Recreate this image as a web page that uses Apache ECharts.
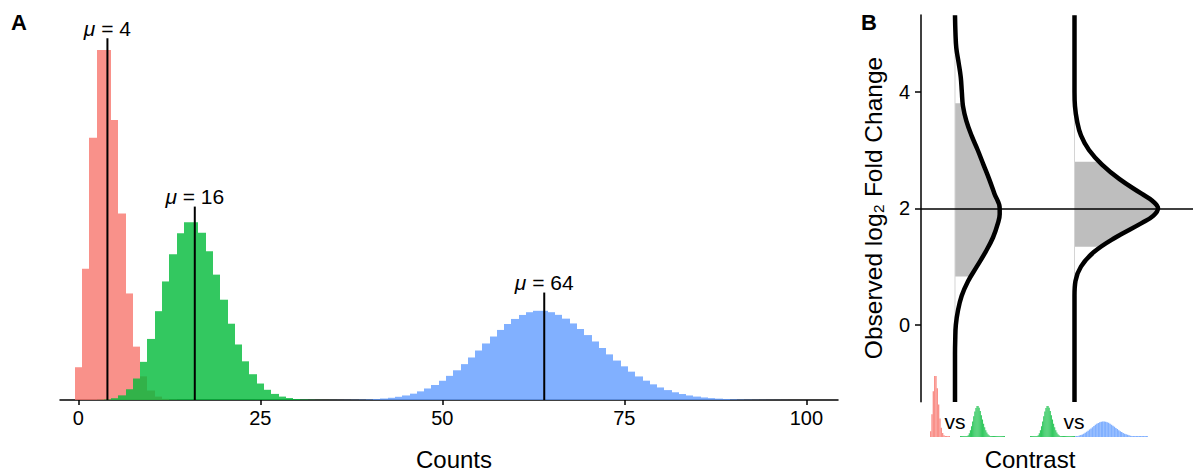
<!DOCTYPE html>
<html>
<head>
<meta charset="utf-8">
<script src="https://cdn.jsdelivr.net/npm/echarts@6/dist/echarts.min.js"></script>
<style>
html, body { margin: 0; padding: 0; background: #fff; }
#chart { width: 1193px; height: 473px; }
</style>
</head>
<body>
<div id="chart"></div>
<script>
// panel A: count histograms (density per count)
var redK = [0, 1, 2, 3, 4, 5, 6, 7, 8, 9, 10, 11, 12, 13, 14, 15];
var redP = [0.0183, 0.0733, 0.1465, 0.1954, 0.1954, 0.1563, 0.1042, 0.0595, 0.0298, 0.0132,
  0.0053, 0.0019, 0.00064, 0.0002, 0.00006, 0.00002];

var greenK = [0, 1, 2, 3, 4, 5, 6, 7, 8, 9, 10, 11, 12, 13, 14, 15, 16, 17, 18, 19, 20,
  21, 22, 23, 24, 25, 26, 27, 28, 29, 30, 31, 32, 33, 34, 35, 36, 37, 38, 39, 40];
var greenP = [0, 0, 0.00001, 0.00008, 0.0003, 0.001, 0.0026, 0.006, 0.012, 0.0213, 0.0341,
  0.0496, 0.0662, 0.0814, 0.0931, 0.0993, 0.0993, 0.0934, 0.0831, 0.07, 0.056,
  0.0426, 0.031, 0.0216, 0.0144, 0.0092, 0.0057, 0.0034, 0.0019, 0.0011, 0.00056,
  0.00029, 0.00015, 0.00007, 0.00003, 0.00002, 0.000007, 0.000003, 0.000001, 0, 0];

var blueK = [35, 36, 37, 38, 39, 40, 41, 42, 43, 44, 45, 46, 47, 48, 49, 50, 51, 52, 53, 54,
  55, 56, 57, 58, 59, 60, 61, 62, 63, 64, 65, 66, 67, 68, 69, 70, 71, 72, 73, 74,
  75, 76, 77, 78, 79, 80, 81, 82, 83, 84, 85, 86, 87, 88, 89, 90, 91, 92, 93, 94,
  95, 96, 97, 98];
var blueP = [0.000026, 0.000045, 0.000079, 0.00013, 0.00022, 0.00035, 0.00054, 0.00083,
  0.00123, 0.00179, 0.00254, 0.00354, 0.00482, 0.00643, 0.00839, 0.01074, 0.01348,
  0.01659, 0.02003, 0.02374, 0.02763, 0.03157, 0.03545, 0.03912, 0.04244, 0.04526,
  0.04749, 0.04902, 0.0498, 0.0498, 0.04903, 0.04755, 0.04542, 0.04275, 0.03965,
  0.03625, 0.03268, 0.02905, 0.02547, 0.02202, 0.01879, 0.01583, 0.01315, 0.01079,
  0.00874, 0.007, 0.00553, 0.00431, 0.00333, 0.00253, 0.00191, 0.00142, 0.00105,
  0.00076, 0.00055, 0.00039, 0.00027, 0.00019, 0.00013, 0.00009, 0.00006, 0.00004,
  0.000026, 0.000017];

var means = [4, 16, 64];
var meanTops = [0.202, 0.108, 0.06];
var meanLabels = ['4', '16', '64'];
var countTicks = [0, 25, 50, 75, 100];

// panel B: densities of the observed log2 fold change, one per contrast
var contrasts = [1, 2];
var curve1Y = [-1.32, -0.5, -0.25, 0, 0.25, 0.5, 0.75, 1, 1.25, 1.5, 1.75, 1.9, 2, 2.25, 2.5,
  2.75, 3, 3.25, 3.5, 3.75, 4, 4.25, 4.5, 4.75, 5, 5.31];
var curve1W = [0, 0, 0.002, 0.007, 0.025, 0.056, 0.109, 0.182, 0.255, 0.318, 0.36, 0.374, 0.374,
  0.33, 0.286, 0.238, 0.19, 0.138, 0.095, 0.067, 0.057, 0.048, 0.03, 0.011, 0.004, 0];
var curve2Y = [-1.32, 0.5, 0.75, 1, 1.25, 1.5, 1.75, 1.875, 2, 2.125, 2.25, 2.5, 2.75, 3,
  3.25, 3.5, 3.75, 4, 5.31];
var curve2W = [0, 0, 0.008, 0.054, 0.162, 0.343, 0.565, 0.661, 0.699, 0.653, 0.561, 0.377,
  0.23, 0.121, 0.054, 0.021, 0.004, 0, 0];
var fill1 = [0.83, 3.8];
var fill2 = [1.34, 2.8];
var lfcTicks = [0, 2, 4];
var refLfc = 2;

var FONT = "'Liberation Sans', Arial, Helvetica, sans-serif";
var RED = 'rgba(248,118,109,0.8)';
var GREEN = 'rgba(0,186,56,0.8)';
var BLUE = 'rgba(97,156,255,0.8)';

function histSeries(k, p, color, idx, minH, snap) {
  return {
    type: 'custom', xAxisIndex: idx, yAxisIndex: idx, clip: true,
    data: k.map(function (v, i) { return [v, p[i]]; }),
    renderItem: function (params, api) {
      var a = api.coord([api.value(0) - 0.5, api.value(1)]);
      var b = api.coord([api.value(0) + 0.5, 0]);
      if (snap) { a[0] = Math.round(a[0]); b[0] = Math.round(b[0]); }
      var h = b[1] - a[1];
      if (h < minH) { h = minH; a[1] = b[1] - minH; }
      return {
        type: 'rect',
        shape: { x: a[0], y: a[1], width: b[0] - a[0], height: h },
        style: { fill: color }
      };
    }
  };
}

function widthAt(ys, ws, y) {
  for (var i = 1; i < ys.length; i++) {
    if (y <= ys[i]) {
      var t = (y - ys[i - 1]) / (ys[i] - ys[i - 1]);
      return ws[i - 1] + t * (ws[i] - ws[i - 1]);
    }
  }
  return 0;
}

function fillSeries(c, ys, ws, band) {
  return {
    type: 'custom', xAxisIndex: 1, yAxisIndex: 1, z: 1,
    data: [[c, band[0], band[1]]],
    renderItem: function (params, api) {
      var lo = band[0], hi = band[1];
      var pts = [api.coord([c, lo]), api.coord([c + widthAt(ys, ws, lo), lo])];
      ys.forEach(function (y, i) {
        if (y > lo && y < hi) pts.push(api.coord([c + ws[i], y]));
      });
      pts.push(api.coord([c + widthAt(ys, ws, hi), hi]));
      pts.push(api.coord([c, hi]));
      return { type: 'polygon', shape: { points: pts }, style: { fill: '#bebebe' } };
    }
  };
}

function curveSeries(c, ys, ws, withRef) {
  var s = {
    type: 'line', xAxisIndex: 1, yAxisIndex: 1, z: 4,
    data: ys.map(function (y, i) { return [c + ws[i], y]; }),
    smooth: 0.4, symbol: 'none',
    lineStyle: { color: '#000', width: 4.5 }
  };
  if (withRef) {
    s.markLine = {
      silent: true, symbol: 'none', label: { show: false },
      lineStyle: { color: '#000', width: 1.5, type: 'solid' },
      data: [{ yAxis: refLfc }]
    };
  }
  return s;
}

// small histogram boxes under panel B
var minis = [
  { left: 930, width: 20, min: -0.5, max: 14.5, k: redK, p: redP, color: RED },
  { left: 960, width: 45, min: -0.5, max: 40.5, k: greenK, p: greenP, color: GREEN },
  { left: 1030, width: 45, min: -0.5, max: 40.5, k: greenK, p: greenP, color: GREEN },
  { left: 1075, width: 73, min: 44, max: 94, k: blueK, p: blueP, color: BLUE }
];

var grids = [
  { left: 60, top: 6, width: 778, height: 394 },
  { left: 921, top: 15, width: 272, height: 386.7 }
];
var xAxes = [
  {
    gridIndex: 0, type: 'value', min: -2.514, max: 104.35,
    axisLine: { show: true, onZero: false, lineStyle: { color: '#000', width: 1.5 } },
    axisTick: { show: true, length: 5, customValues: countTicks, lineStyle: { color: '#000', width: 1.5 } },
    axisLabel: { customValues: countTicks, fontSize: 20, color: '#000', margin: 8, fontFamily: FONT },
    splitLine: { show: false }
  },
  { gridIndex: 1, type: 'value', min: 0.7155, max: 2.9916, show: false }
];
var yAxes = [
  { gridIndex: 0, type: 'value', min: 0, max: 0.22, show: false },
  {
    gridIndex: 1, type: 'value', min: -1.315, max: 5.314,
    axisLine: { show: true, onZero: false, lineStyle: { color: '#000', width: 1.5 } },
    axisTick: { show: true, length: 6, customValues: lfcTicks, lineStyle: { color: '#000', width: 1.5 } },
    axisLabel: { customValues: lfcTicks, fontSize: 20, color: '#000', margin: 11, fontFamily: FONT },
    splitLine: { show: false }
  }
];
var series = [
  histSeries(redK, redP, RED, 0, 0, true),
  histSeries(greenK, greenP, GREEN, 0, 0, true),
  histSeries(blueK, blueP, BLUE, 0, 0, true),
  {
    type: 'custom', xAxisIndex: 0, yAxisIndex: 0, z: 5, clip: false,
    data: means.map(function (m, i) { return [m, meanTops[i]]; }),
    renderItem: function (params, api) {
      var top = api.coord([api.value(0), api.value(1)]);
      var bot = api.coord([api.value(0), 0]);
      return {
        type: 'group',
        children: [
          { type: 'line', shape: { x1: bot[0], y1: bot[1], x2: top[0], y2: top[1] },
            style: { stroke: '#000', lineWidth: 2 } },
          { type: 'text', x: top[0], y: top[1] - 10,
            style: {
              text: '{i|μ} = ' + meanLabels[params.dataIndex],
              rich: { i: { fontStyle: 'italic', fontSize: 21, fontFamily: FONT, fill: '#000' } },
              fontSize: 21, fontFamily: FONT, fill: '#000', align: 'center', verticalAlign: 'middle'
            } }
        ]
      };
    }
  },
  {
    type: 'custom', xAxisIndex: 1, yAxisIndex: 1, z: 2,
    data: contrasts.map(function (c) { return [c, -1.32, 5.31]; }),
    renderItem: function (params, api) {
      var a = api.coord([api.value(0), api.value(1)]);
      var b = api.coord([api.value(0), api.value(2)]);
      return { type: 'line', shape: { x1: a[0], y1: a[1], x2: b[0], y2: b[1] },
        style: { stroke: '#d4d4d4', lineWidth: 1 } };
    }
  },
  fillSeries(contrasts[0], curve1Y, curve1W, fill1),
  fillSeries(contrasts[1], curve2Y, curve2W, fill2),
  curveSeries(contrasts[0], curve1Y, curve1W, true),
  curveSeries(contrasts[1], curve2Y, curve2W, false)
];

minis.forEach(function (m, j) {
  var idx = j + 2;
  grids.push({ left: m.left, top: 374.6, width: m.width, height: 62.4 });
  xAxes.push({ gridIndex: idx, type: 'value', min: m.min, max: m.max, show: false });
  yAxes.push({ gridIndex: idx, type: 'value', min: 0, max: 0.2, show: false });
  series.push(histSeries(m.k, m.p, m.color, idx, 1, false));
});

var chart = echarts.init(document.getElementById('chart'), null, { renderer: 'svg' });
chart.setOption({
  animation: false,
  backgroundColor: '#fff',
  grid: grids,
  xAxis: xAxes,
  yAxis: yAxes,
  series: series,
  graphic: [
    { type: 'text', x: 11, y: 22, style: { text: 'A', fontSize: 22, fontWeight: 'bold', fontFamily: FONT, fill: '#000', verticalAlign: 'middle' } },
    { type: 'text', x: 861, y: 22, style: { text: 'B', fontSize: 22, fontWeight: 'bold', fontFamily: FONT, fill: '#000', verticalAlign: 'middle' } },
    { type: 'text', x: 454, y: 459, style: { text: 'Counts', fontSize: 24, fontFamily: FONT, fill: '#000', align: 'center', verticalAlign: 'middle' } },
    { type: 'text', x: 1030, y: 459, style: { text: 'Contrast', fontSize: 24, fontFamily: FONT, fill: '#000', align: 'center', verticalAlign: 'middle' } },
    { type: 'text', x: 873, y: 208, rotation: Math.PI / 2, style: { text: 'Observed log₂ Fold Change', fontSize: 24.5, fontFamily: FONT, fill: '#000', align: 'center', verticalAlign: 'middle' } },
    { type: 'text', x: 955, y: 421, style: { text: 'vs', fontSize: 21, fontFamily: FONT, fill: '#000', align: 'center', verticalAlign: 'middle' } },
    { type: 'text', x: 1074, y: 421, style: { text: 'vs', fontSize: 21, fontFamily: FONT, fill: '#000', align: 'center', verticalAlign: 'middle' } }
  ]
});
</script>
</body>
</html>
